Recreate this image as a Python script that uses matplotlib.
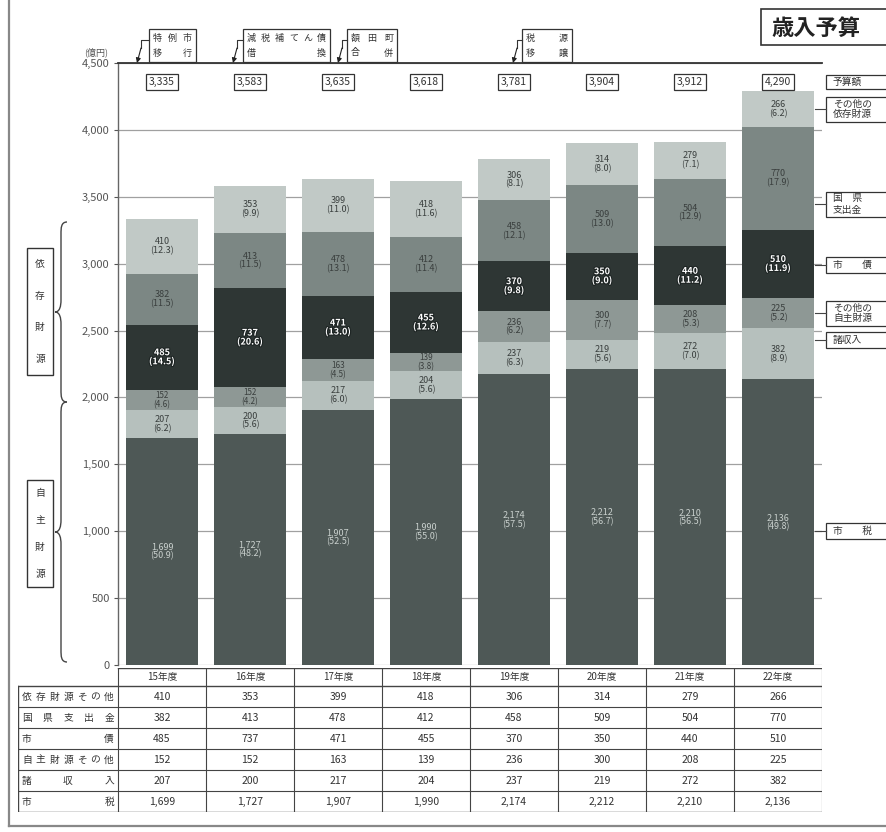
import matplotlib
matplotlib.use('Agg')
import matplotlib.pyplot as plt
from matplotlib.patches import Rectangle, PathPatch
from matplotlib.path import Path
from matplotlib.lines import Line2D
import matplotlib.patheffects as pe
from matplotlib.transforms import blended_transform_factory

plt.rcParams['font.family'] = ['Noto Sans CJK JP', 'DejaVu Sans']

# ---------------- data ----------------
years = ['15年度', '16年度', '17年度', '18年度', '19年度', '20年度', '21年度', '22年度']
totals = [3335, 3583, 3635, 3618, 3781, 3904, 3912, 4290]
shizei = [1699, 1727, 1907, 1990, 2174, 2212, 2210, 2136]        # 市税
shoshunyu = [207, 200, 217, 204, 237, 219, 272, 382]             # 諸収入
jishu_other = [152, 152, 163, 139, 236, 300, 208, 225]           # 自主財源その他
shisai = [485, 737, 471, 455, 370, 350, 440, 510]                # 市債
kokken = [382, 413, 478, 412, 458, 509, 504, 770]                # 国県支出金
izon_other = [410, 353, 399, 418, 306, 314, 279, 266]            # 依存財源その他

series_names = ['市税', '諸収入', '自主財源その他', '市債', '国県支出金', '依存財源その他']
series_vals = [shizei, shoshunyu, jishu_other, shisai, kokken, izon_other]
series_colors = ['#4e5856', '#b6c0bd', '#8e9895', '#2e3634', '#7c8784', '#c1c9c6']

table_labels = ['依存財源その他', '国県支出金', '市債', '自主財源その他', '諸収入', '市税']
table_vals = [izon_other, kokken, shisai, jishu_other, shoshunyu, shizei]

yticks = [0, 500, 1000, 1500, 2000, 2500, 3000, 3500, 4000, 4500]

events = [('特例市', '移行'), ('減税補てん債', '借換'), ('額田町', '合併'), ('税源', '移譲')]

# ---------------- figure ----------------
W, H = 886, 832
fig = plt.figure(figsize=(W / 100, H / 100), dpi=100)
fig.patch.set_facecolor('white')

def fx(x):
    return x / W

def fy(y):
    return 1 - y / H

TXT = '#333333'

# main axes: y=0 at 665px, y=4500 at 63px; x slots from 118 to 822
ax = fig.add_axes([fx(118), fy(665), (822 - 118) / W, (665 - 63) / H])
ax.set_xlim(-0.5, 7.5)
ax.set_ylim(0, 4500)
x = list(range(len(years)))
bottom = [0] * len(years)
for name, vals, col in zip(series_names, series_vals, series_colors):
    ax.bar(x, vals, bottom=bottom, width=0.82, color=col, edgecolor='none', zorder=2)
    for i, v in enumerate(vals):
        pct = v / totals[i] * 100
        yc = bottom[i] + v / 2
        lab = f'{v:,}\n({pct:.1f})'
        if name == '市債':
            ax.text(i, yc, lab, ha='center', va='center', fontsize=6.5, color='white',
                    fontweight='bold', linespacing=1.0, zorder=3,
                    path_effects=[pe.withStroke(linewidth=1.6, foreground='#1e2524')])
        elif name == '市税':
            ax.text(i, yc, lab, ha='center', va='center', fontsize=6.5, color='#c9d0cd',
                    linespacing=1.05, zorder=3)
        else:
            fs = 6.5 if v > 180 else 5.8
            ax.text(i, yc, lab, ha='center', va='center', fontsize=fs, color='#3a3f3e',
                    linespacing=1.0, zorder=3)
    bottom = [b + v for b, v in zip(bottom, vals)]

ax.set_yticks(yticks)
ax.set_yticklabels([f'{t:,}' for t in yticks], fontsize=8, color='#555555')
ax.tick_params(axis='y', length=3, width=0.8, color='#555555', pad=3)
ax.set_xticks([])
ax.yaxis.grid(True, color='#a0a0a0', lw=0.9)
ax.set_axisbelow(True)
for s in ['right', 'bottom']:
    ax.spines[s].set_visible(False)
ax.spines['left'].set_color('#666666')
ax.spines['left'].set_linewidth(1.0)
ax.spines['top'].set_color('#333333')
ax.spines['top'].set_linewidth(1.3)

# totals boxes
bt = blended_transform_factory(ax.transData, fig.transFigure)
for i, t in enumerate(totals):
    ax.text(i, fy(82), f'{t:,}', transform=bt, ha='center', va='center', fontsize=7.5,
            color=TXT, clip_on=False,
            bbox=dict(boxstyle='square,pad=0.25', fc='white', ec='#333333', lw=0.9))

# ---------------- overlay axes in pixel coords ----------------
oax = fig.add_axes([0, 0, 1, 1], zorder=5)
oax.set_xlim(0, W)
oax.set_ylim(H, 0)
oax.axis('off')

def dist_text(a, x0, x1, y, s, fs, **kw):
    n = len(s)
    cw = fs * 100 / 72
    if n == 1:
        a.text((x0 + x1) / 2, y, s, ha='center', va='center', fontsize=fs, **kw)
        return
    for k, ch in enumerate(s):
        xc = x0 + cw / 2 + k * (x1 - x0 - cw) / (n - 1)
        a.text(xc, y, ch, ha='center', va='center', fontsize=fs, **kw)

# (億円)
oax.text(96, 52, '(億円)', ha='center', va='center', fontsize=6.5, color='#555555')

# event annotations
ev_boxes = [(137, 149, 196), (233, 243, 330), (338, 347, 397), (513, 522, 572)]
for (ax_x, b0, b1), (l1, l2) in zip(ev_boxes, events):
    oax.add_patch(Rectangle((b0, 29), b1 - b0, 33, fc='white', ec='#333333', lw=0.9))
    dist_text(oax, b0 + 4, b1 - 4, 38.5, l1, 6.5, color=TXT)
    dist_text(oax, b0 + 4, b1 - 4, 53, l2, 6.5, color=TXT)
    oax.plot([b0, ax_x + 4, ax_x + 4], [40, 40, 48], color='#333333', lw=0.8)
    oax.annotate('', xy=(ax_x, 63), xytext=(ax_x + 4, 48),
                 arrowprops=dict(arrowstyle='-|>', color='#222222', lw=0.8,
                                 mutation_scale=7, shrinkA=0, shrinkB=0))

# title
oax.add_patch(Rectangle((761, 9), 130, 36, fc='white', ec='#333333', lw=1.2))
oax.text(771, 28, '歳入予算', ha='left', va='center', fontsize=16, fontweight='bold',
         color='#222222')

# right-hand legend boxes (linked to the last bar)
legend_items = [
    (82, ['予算額'], 14),
    (109, ['その他の', '依存財源'], 25),
    (204, ['国　県', '支出金'], 25),
    (265, ['市　　債'], 16),
    (313, ['その他の', '自主財源'], 25),
    (340, ['諸収入'], 16),
    (531, ['市　　税'], 16),
]
for yc, lines, hh in legend_items:
    oax.add_patch(Rectangle((826, yc - hh / 2), 70, hh, fc='white', ec='#333333', lw=0.9))
    if len(lines) == 1:
        oax.text(833, yc, lines[0], ha='left', va='center', fontsize=7, color=TXT)
    else:
        oax.text(833, yc - 5.5, lines[0], ha='left', va='center', fontsize=7, color=TXT)
        oax.text(833, yc + 5.5, lines[1], ha='left', va='center', fontsize=7, color=TXT)
    if yc > 90:
        oax.plot([815, 826], [yc, yc], color='#444444', lw=0.8)

# braces on the left
def brace(a, xs, y1, y2, w=6):
    ym = (y1 + y2) / 2
    verts = [(xs + w, y1), (xs, y1), (xs, y1 + w), (xs, y1 + 2 * w),
             (xs, ym - 2 * w),
             (xs, ym - w), (xs - w * 0.2, ym), (xs - w, ym),
             (xs - w * 0.2, ym), (xs, ym + w), (xs, ym + 2 * w),
             (xs, y2 - 2 * w),
             (xs, y2 - w), (xs, y2), (xs + w, y2)]
    codes = [Path.MOVETO, Path.CURVE4, Path.CURVE4, Path.CURVE4,
             Path.LINETO,
             Path.CURVE4, Path.CURVE4, Path.CURVE4,
             Path.CURVE4, Path.CURVE4, Path.CURVE4,
             Path.LINETO,
             Path.CURVE4, Path.CURVE4, Path.CURVE4]
    a.add_patch(PathPatch(Path(verts, codes), fc='none', ec='#444444', lw=1.0))

brace(oax, 61, 222, 402)
brace(oax, 61, 402, 662)

for (b0, b1, chars) in [(248, 375, '依存財源'), (480, 587, '自主財源')]:
    oax.add_patch(Rectangle((27, b0), 26, b1 - b0, fc='white', ec='#333333', lw=1.0))
    n = len(chars)
    step = (b1 - b0) / n
    for k, ch in enumerate(chars):
        oax.text(40, b0 + step * (k + 0.5), ch, ha='center', va='center', fontsize=7, color=TXT)

# page frame
oax.plot([9, 9], [0, 826], color='#888888', lw=1.6)
oax.plot([9, W], [826, 826], color='#888888', lw=1.6)

# ---------------- table ----------------
tx0, tx1, ty0, ty1 = 18, 822, 668, 812
lab_w = (118 - tx0) / 88.0
tax = fig.add_axes([fx(tx0), fy(ty1), (tx1 - tx0) / W, (ty1 - ty0) / H], zorder=4)
tax.set_xlim(-0.5 - lab_w, 7.5)
tax.set_ylim(ty1, ty0)
tax.axis('off')
LC = '#444444'
hdr_b = 686
row_h = (ty1 - hdr_b) / len(table_labels)
xl = -0.5 - lab_w
# header
tax.plot([-0.5, 7.5], [ty0, ty0], color=LC, lw=1.0)
for i, yr in enumerate(years):
    tax.text(i, (ty0 + hdr_b) / 2, yr, ha='center', va='center', fontsize=7, color=TXT)
# horizontal lines
tax.plot([xl, 7.5], [hdr_b, hdr_b], color=LC, lw=1.0)
for r in range(1, len(table_labels) + 1):
    yy = hdr_b + r * row_h
    tax.plot([xl, 7.5], [yy, yy], color=LC, lw=1.0 if r == len(table_labels) else 0.8)
# vertical lines
tax.plot([xl, xl], [hdr_b, ty1], color=LC, lw=1.0)
for k in range(len(years) + 1):
    xx = -0.5 + k
    tax.plot([xx, xx], [ty0, ty1], color=LC, lw=0.8)
# rows
for r, (lab, vals) in enumerate(zip(table_labels, table_vals)):
    yc = hdr_b + (r + 0.5) * row_h
    x0p = xl + 4 / 88
    x1p = -0.5 - 4 / 88
    n = len(lab)
    cw = 7 * 100 / 72 / 88
    if n == 1:
        tax.text((x0p + x1p) / 2, yc, lab, ha='center', va='center', fontsize=7, color=TXT)
    else:
        for k, ch in enumerate(lab):
            xc = x0p + cw / 2 + k * (x1p - x0p - cw) / (n - 1)
            tax.text(xc, yc, ch, ha='center', va='center', fontsize=7, color=TXT)
    for i, v in enumerate(vals):
        tax.text(i, yc, f'{v:,}', ha='center', va='center', fontsize=7.5, color=TXT)

fig.savefig('out.png', dpi=100, facecolor='white')
